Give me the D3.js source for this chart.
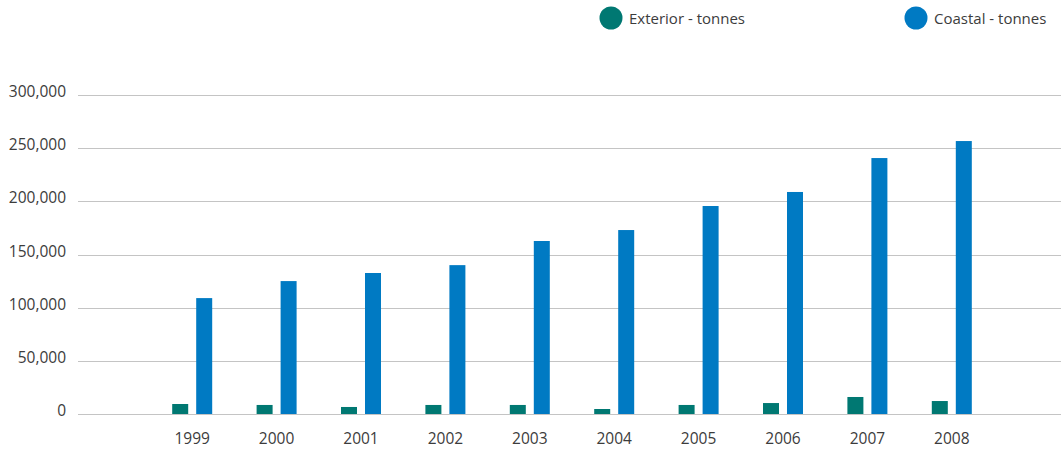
<!DOCTYPE html>
<html>
<head>
<meta charset="utf-8">
<script src="https://cdn.jsdelivr.net/npm/d3@7"></script>
<style>
  html, body { margin: 0; padding: 0; background: #fff; }
  svg { display: block; font-family: "Open Sans", "Noto Sans", sans-serif; }
</style>
</head>
<body>
<svg id="chart" width="1063" height="452"></svg>
<script>
// Traffic volumes by year, in tonnes
const years = ["1999", "2000", "2001", "2002", "2003", "2004", "2005", "2006", "2007", "2008"];
const exteriorTonnes = [9400, 8500, 6600, 8500, 8500, 4700, 8500, 10300, 16000, 12200];
const coastalTonnes = [109000, 125000, 132600, 140000, 162700, 173000, 195600, 208800, 240700, 256700];
const seriesNames = ["Exterior - tonnes", "Coastal - tonnes"];
const seriesColors = ["#007872", "#007ac3"];
const yTicks = [0, 50000, 100000, 150000, 200000, 250000, 300000];

const svg = d3.select("#chart");
const textColor = "#3c3c3c";

const y = d3.scaleLinear().domain([0, 300000]).range([414, 95]);
const x0 = d3.scaleBand().domain(years).range([150, 994]).padding(0);
const bw = x0.bandwidth();
const x1 = d3.scaleBand().domain(seriesNames).range([bw / 2 - 20, bw / 2 + 20]).paddingInner(1 / 3);

// Horizontal gridlines with value labels
const grid = svg.append("g");
yTicks.forEach(t => {
  const yy = Math.round(y(t)) + 0.5;
  grid.append("line")
    .attr("x1", 78).attr("x2", 1061)
    .attr("y1", yy).attr("y2", yy)
    .attr("stroke", "#c4c4c4").attr("stroke-width", 1.2);
  grid.append("text")
    .attr("x", 66).attr("y", yy - 3)
    .attr("text-anchor", "end")
    .attr("dy", "0.32em")
    .attr("font-size", 15.5)
    .attr("fill", textColor)
    .text(d3.format(",")(t));
});

// Grouped bars
const rows = years.map((yr, i) => ({ year: yr, values: [exteriorTonnes[i], coastalTonnes[i]] }));
const groups = svg.append("g").selectAll("g")
  .data(rows).join("g")
  .attr("transform", d => `translate(${x0(d.year)},0)`);
groups.selectAll("rect")
  .data(d => d.values.map((v, k) => ({ key: seriesNames[k], value: v, k })))
  .join("rect")
  .attr("x", d => x1(d.key))
  .attr("width", x1.bandwidth())
  .attr("y", d => y(d.value))
  .attr("height", d => y(0) - y(d.value))
  .attr("fill", d => seriesColors[d.k]);

// Year labels
const xAxis = svg.append("g");
years.forEach(yr => {
  xAxis.append("text")
    .attr("x", x0(yr) + bw / 2)
    .attr("y", 439)
    .attr("dy", "0.35em")
    .attr("text-anchor", "middle")
    .attr("font-size", 15.5)
    .attr("fill", textColor)
    .text(yr);
});

// Legend
const legendPos = [611, 916];
const legend = svg.append("g");
seriesNames.forEach((name, k) => {
  legend.append("circle")
    .attr("cx", legendPos[k]).attr("cy", 18).attr("r", 11.5)
    .attr("fill", seriesColors[k]);
  legend.append("text")
    .attr("x", legendPos[k] + 18).attr("y", 19)
    .attr("dy", "0.35em")
    .attr("font-size", 15)
    .attr("fill", textColor)
    .text(name);
});
</script>
</body>
</html>
